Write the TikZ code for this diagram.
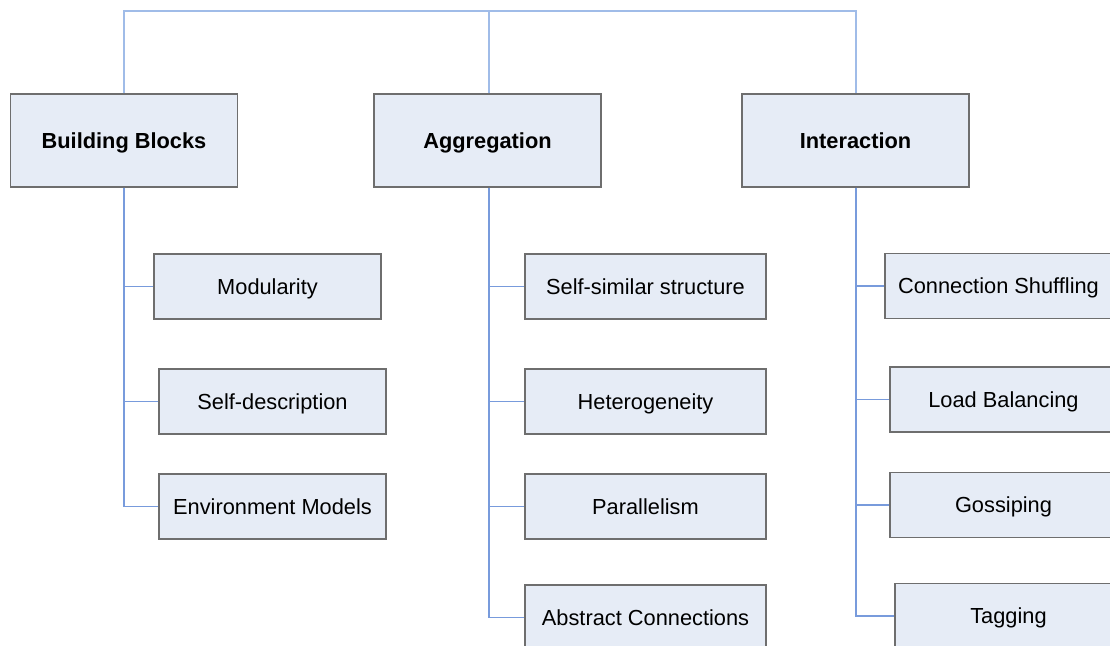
\documentclass[tikz,border=0pt]{standalone}
\usepackage{fontspec}
\setmainfont{Liberation Sans}
\usetikzlibrary{positioning}
\usetikzlibrary{scopes}

\definecolor{boxfill}{RGB}{230,236,246}
\definecolor{boxline}{RGB}{110,110,110}
\definecolor{linkblue}{RGB}{120,155,220}
\definecolor{toplink}{RGB}{160,188,232}

\begin{document}
\begin{tikzpicture}
  [x=0.5pt, y=-0.5pt,
   label text/.style={font=\fontsize{10.9}{13}\selectfont,
         text height=7.8pt, text depth=0pt},
   topic/.style={label text, draw=boxline, fill=boxfill, line width=0.6pt,
         minimum width=113.5pt, minimum height=46.5pt,
         font=\fontsize{10.9}{13}\selectfont\bfseries},
   item/.style={label text, draw=boxline, fill=boxfill, line width=0.6pt,
         minimum width=113.5pt, minimum height=32.5pt},
   wide/.style={minimum width=120.5pt},
   link/.style={draw=linkblue, line width=0.7pt}
  ]
  \useasboundingbox (0,0) rectangle (1110,645);
  \clip (0,0) rectangle (1110,645);
  \coordinate (top) at (0,11);

 \path
   (124,140.5) node (blocks)      [topic]  {Building Blocks}
   {[current point is local] % start building blocks branch
      ++(143.5,146) node (modularity) [item] {Modularity}
      ++(5,115)     node (selfdesc)   [item] {Self-description}
      ++(0,105)     node (envmodels)  [item] {Environment Models}
   }
   ++(363.5,0) node (aggregation) [topic]  {Aggregation}
   {[current point is local] % start aggregation branch
      ++(158,146)   node (selfsimilar) [item, wide] {Self-similar structure}
      ++(0,115)     node (hetero)      [item, wide] {Heterogeneity}
      ++(0,105)     node (parallel)    [item, wide] {Parallelism}
      ++(0,111)     node (abstract)    [item, wide] {Abstract Connections}
   }
   ++(368,0)   node (interaction) [topic]  {Interaction}
   {[current point is local] % start interaction branch
      ++(143,145.5) node (shuffling)  [item] {Connection Shuffling}
      ++(5,113.5)   node (balancing)  [item] {Load Balancing}
      ++(0,105.5)   node (gossiping)  [item] {Gossiping}
      ++(5,111)     node (tagging)    [item] {Tagging}
   }
   ;

   % trunks sit a little right of the box centres
   \coordinate (aggtop) at ([xshift=0.75pt]aggregation.north);
   \coordinate (aggbot) at ([xshift=0.75pt]aggregation.south);
   \coordinate (inttop) at ([xshift=0.25pt]interaction.north);
   \coordinate (intbot) at ([xshift=0.25pt]interaction.south);

   % bar across the top
   \draw [draw=toplink, line width=0.7pt]
      (blocks.north) |- (inttop |- top) -- (inttop);
   \draw [draw=toplink, line width=0.7pt]
      (aggtop) -- (aggtop |- top);

   \begin{scope}[link]
   \draw (blocks) |- (modularity);
   \draw (blocks) |- (selfdesc);
   \draw (blocks) |- (envmodels);
   \draw (aggbot) |- (selfsimilar);
   \draw (aggbot) |- (hetero);
   \draw (aggbot) |- (parallel);
   \draw (aggbot) |- (abstract);
   \draw (intbot) |- (shuffling);
   \draw (intbot) |- (balancing);
   \draw (intbot) |- (gossiping);
   \draw (intbot) |- (tagging);
   \end{scope}

\end{tikzpicture}
\end{document}
